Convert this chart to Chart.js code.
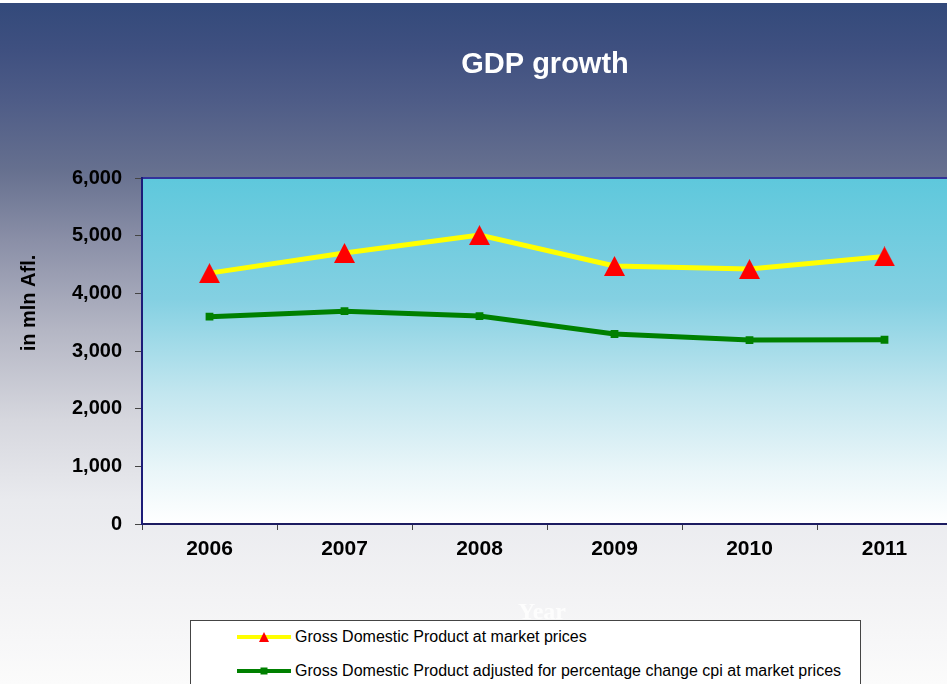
<!DOCTYPE html>
<html>
<head>
<meta charset="utf-8">
<title>GDP growth</title>
<script src="https://cdn.jsdelivr.net/npm/chart.js@4.4.1/dist/chart.umd.min.js"></script>
<style>
    html, body {
        margin: 0;
        padding: 0;
        width: 947px;
        height: 684px;
        overflow: hidden;
    }
    body {
        position: relative;
        font-family: "Liberation Sans", Arial, sans-serif;
        background: linear-gradient(to bottom,
            #32497a 0px, #3f5080 50px, #4e5c87 100px, #66708f 170px,
            #8a8fa7 240px, #b4b6c4 330px, #d6d7de 420px, #e9eaee 500px,
            #f2f2f4 590px, #fbfbfb 684px);
    }
    #strip {
        position: absolute; left: 0; top: 0;
        width: 947px; height: 3px; background: #fff;
    }
    #chart {
        position: absolute; left: 0; top: 0;
    }
    #legend {
        position: absolute;
        left: 190px; top: 620px;
        width: 671px; height: 80px;
        box-sizing: border-box;
        background: #fff;
        border: 1px solid #444;
    }
    .row {
        position: absolute;
        left: 46px;
        height: 20px;
        display: flex;
        align-items: center;
        white-space: nowrap;
        font-size: 16px;
        color: #000;
    }
    .row span { margin-left: 4px; }
</style>
</head>
<body>
<div id="strip"></div>
<canvas id="chart" width="960" height="684"></canvas>
<div id="legend"></div>

<script>
// ---------- Data ----------

const years = ["2006", "2007", "2008", "2009", "2010", "2011"];

const gdpMarket = [4350, 4700, 5010, 4475, 4420, 4640];
const gdpAdjusted = [3595, 3690, 3605, 3295, 3190, 3195];

const yTicks = [0, 1000, 2000, 3000, 4000, 5000, 6000];

const seriesNames = [
    "Gross Domestic Product at market prices",
    "Gross Domestic Product adjusted for percentage change cpi at market prices"
];

// ---------- Triangle marker ----------

function makeTriangle(w, h) {
    const c = document.createElement("canvas");
    c.width = w;
    c.height = h;
    const g = c.getContext("2d");
    g.fillStyle = "#ff0000";
    g.beginPath();
    g.moveTo(w / 2, 0);
    g.lineTo(w, h);
    g.lineTo(0, h);
    g.closePath();
    g.fill();
    return c;
}

const triangle = makeTriangle(21, 20);

// ---------- Plot background + texts ----------

const decor = {
    id: "decor",
    beforeDraw(chart) {
        const { ctx, chartArea: a } = chart;
        const grad = ctx.createLinearGradient(0, a.top, 0, a.bottom);
        grad.addColorStop(0, "#5ec8dc");
        grad.addColorStop(0.35, "#84d0e2");
        grad.addColorStop(0.62, "#c2e6ef");
        grad.addColorStop(0.85, "#eaf6f9");
        grad.addColorStop(1, "#ffffff");
        ctx.save();
        ctx.fillStyle = grad;
        ctx.fillRect(a.left, a.top, a.right - a.left, a.bottom - a.top);

        ctx.strokeStyle = "#33339a";
        ctx.lineWidth = 2;
        ctx.beginPath();
        ctx.moveTo(a.left, a.top);
        ctx.lineTo(a.right, a.top);
        ctx.stroke();

        // title
        ctx.fillStyle = "#ffffff";
        ctx.font = "bold 29px 'Liberation Sans', Arial, sans-serif";
        ctx.textAlign = "center";
        ctx.textBaseline = "middle";
        ctx.fillText("GDP growth", 545, 65);

        // y axis title
        ctx.fillStyle = "#000000";
        ctx.font = "bold 20px 'Liberation Sans', Arial, sans-serif";
        ctx.translate(29, 303);
        ctx.rotate(-Math.PI / 2);
        ctx.fillText("in mln Afl.", 0, 0);
        ctx.restore();

        // x axis title (almost white)
        ctx.save();
        ctx.fillStyle = "#fdfdfd";
        ctx.font = "bold 24px 'Liberation Serif', 'Times New Roman', serif";
        ctx.textAlign = "center";
        ctx.textBaseline = "alphabetic";
        ctx.fillText("Year", 542, 619);
        ctx.restore();
    }
};

// ---------- Chart ----------

const chart = new Chart(document.getElementById("chart"), {
    type: "line",
    data: {
        labels: years,
        datasets: [{
            label: seriesNames[0],
            data: gdpMarket,
            borderColor: "#ffff00",
            borderWidth: 5,
            tension: 0,
            pointStyle: triangle,
            pointRadius: 10,
            pointBackgroundColor: "#ff0000"
        }, {
            label: seriesNames[1],
            data: gdpAdjusted,
            borderColor: "#008000",
            borderWidth: 5,
            tension: 0,
            pointStyle: "rect",
            pointRadius: 5.5,
            pointBorderWidth: 0,
            pointBackgroundColor: "#008000"
        }]
    },
    options: {
        responsive: false,
        animation: false,
        devicePixelRatio: 1,
        layout: {
            autoPadding: false,
            padding: { top: 178, right: 8, bottom: 0, left: 0 }
        },
        plugins: {
            legend: { display: false },
            title: { display: false },
            tooltip: { enabled: false }
        },
        scales: {
            x: {
                offset: true,
                afterFit: (s) => {
                    s.height = 160;
                    s.paddingLeft = 0;
                    s.paddingRight = 0;
                },
                grid: {
                    offset: true,
                    drawOnChartArea: false,
                    tickLength: 6,
                    color: "#444"
                },
                border: { color: "#1c1c60", width: 2 },
                ticks: {
                    padding: 7,
                    color: "#000",
                    font: { family: "'Liberation Sans', Arial, sans-serif", size: 21, weight: "bold" }
                }
            },
            y: {
                min: 0,
                max: 6000,
                afterFit: (s) => { s.width = 142; },
                afterBuildTicks: (s) => { s.ticks = yTicks.map(v => ({ value: v })); },
                grid: {
                    drawOnChartArea: false,
                    tickLength: 7,
                    color: "#444"
                },
                border: { color: "#1c1c78", width: 2 },
                ticks: {
                    padding: 13,
                    color: "#000",
                    font: { family: "'Liberation Sans', Arial, sans-serif", size: 20, weight: "bold" },
                    callback: (v) => Number(v).toLocaleString("en-US")
                }
            }
        }
    },
    plugins: [decor]
});

// ---------- Legend ----------

const legend = document.getElementById("legend");
const rowCenters = [15.7, 49.7];

chart.data.datasets.forEach((ds, i) => {
    const row = document.createElement("div");
    row.className = "row";
    row.style.top = (rowCenters[i] - 10) + "px";

    let marker;
    if (i === 0) {
        marker = '<polygon points="27,5 32,15 22,15" fill="#ff0000"/>';
    } else {
        marker = '<rect x="23.5" y="6.5" width="7" height="7" fill="' + ds.borderColor + '"/>';
    }

    row.innerHTML =
        '<svg width="54" height="20"><line x1="0" y1="10" x2="54" y2="10" stroke="' +
        ds.borderColor + '" stroke-width="4"/>' + marker + '</svg>' +
        '<span>' + ds.label + '</span>';

    legend.appendChild(row);
});
</script>
</body>
</html>
